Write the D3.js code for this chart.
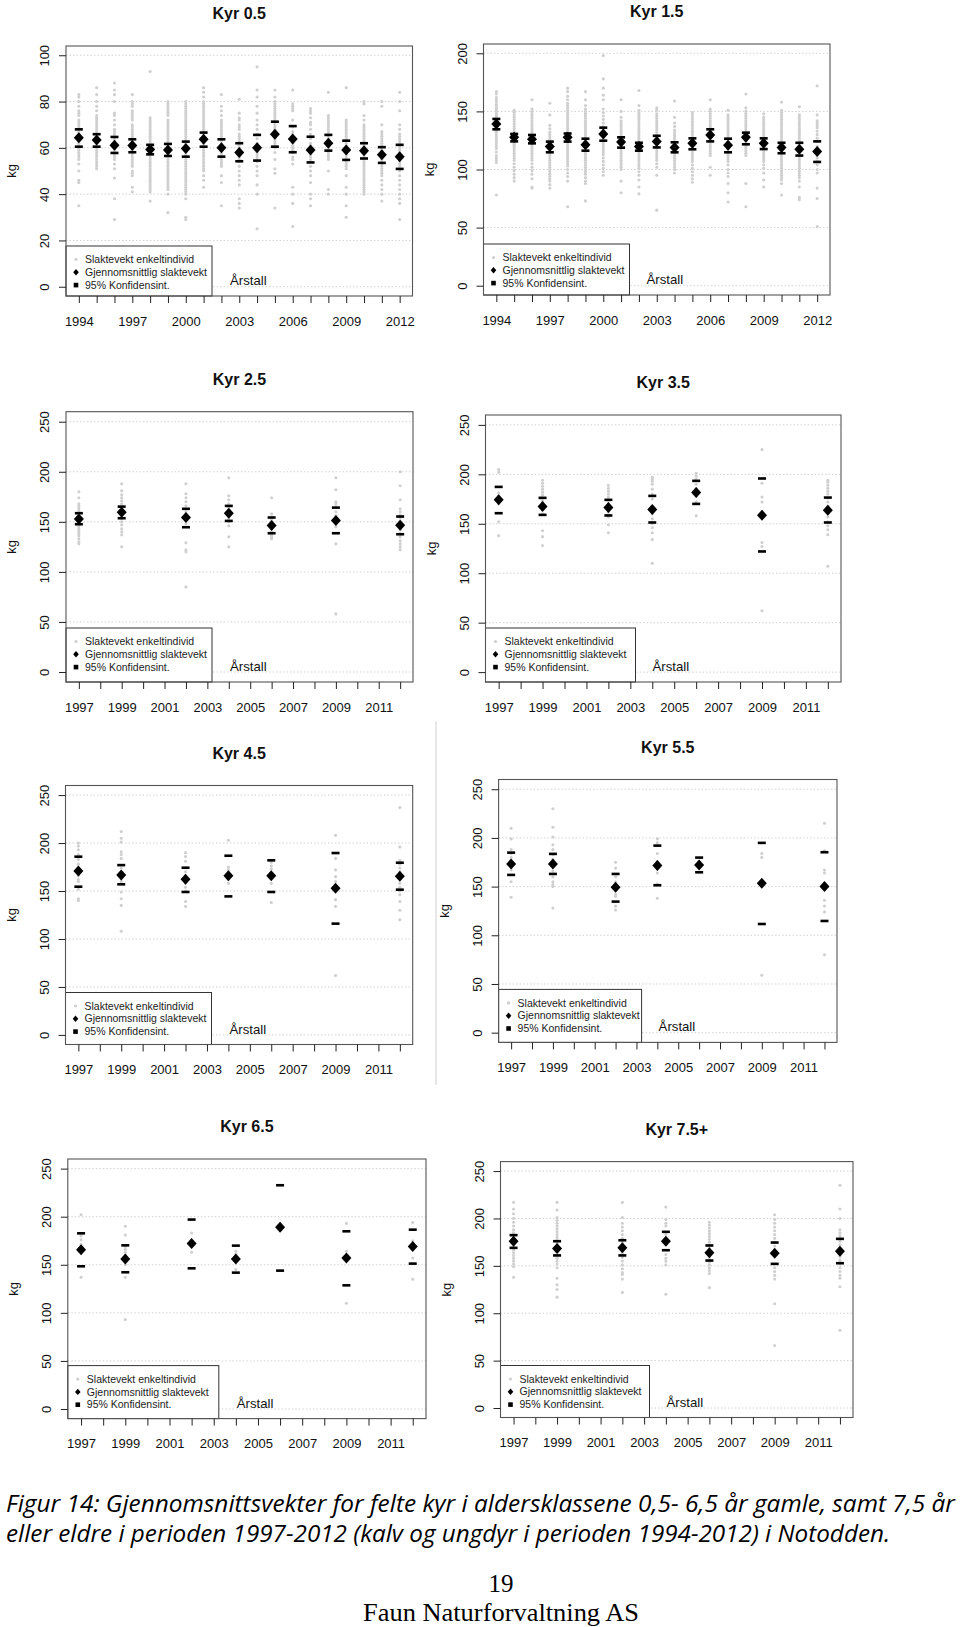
<!DOCTYPE html>
<html><head><meta charset="utf-8">
<script src="https://cdn.jsdelivr.net/npm/d3@7"></script>
<style>body{margin:0;background:#fff}</style>
</head><body><svg id="c" width="960" height="1627" style="font-family:'Liberation Sans',Arial,sans-serif"></svg>
<script>
// ---------------- DATA ----------------
const titles = ["Kyr 0.5","Kyr 1.5","Kyr 2.5","Kyr 3.5","Kyr 4.5","Kyr 5.5","Kyr 6.5","Kyr 7.5+"];
const legendLabels = ["Slaktevekt enkeltindivid","Gjennomsnittlig slaktevekt","95% Konfidensint."];
const xAxisTitle = "Årstall";
const yAxisTitle = "kg";

const yearsYoung = [1994,1995,1996,1997,1998,1999,2000,2001,2002,2003,2004,2005,2006,2007,2008,2009,2010,2011,2012];
const xLabelsYoung = [1994,1997,2000,2003,2006,2009,2012];
const yearsAdult = [1997,1999,2002,2004,2006,2009,2012];
const xTicksAdult = [1997,1998,1999,2000,2001,2002,2003,2004,2005,2006,2007,2008,2009,2010,2011,2012];
const xLabelsAdult = [1997,1999,2001,2003,2005,2007,2009,2011];
const yTicks05 = [0,20,40,60,80,100];
const yTicks15 = [0,50,100,150,200];
const yTicksAdult = [0,50,100,150,200,250];

const mean05 = [64.4,63.4,61.1,61.0,59.3,59.1,59.7,63.7,60.0,58.0,60.0,65.9,63.8,59.1,62.0,59.1,58.8,57.0,56.2];
const hi05 = [68.0,65.9,64.7,63.7,61.3,61.7,62.7,66.6,63.7,62.0,65.6,71.3,69.4,64.8,65.6,63.1,62.0,60.3,61.3];
const lo05 = [60.5,60.5,57.8,58.1,57.2,56.5,56.2,60.5,56.2,54.2,54.5,60.5,58.1,53.7,58.8,54.8,55.4,53.5,50.9];
const pts05 = [
 [83,82,80,78,76,75,74,72,71,70,69,68,67,66,65,64,63,62,61,60,59,58,57,56,55,53,50,46,45,35],
 [86,83,80,78,76,74,73,72,71,70,69,68,67,66,65,64,63,62,61,60,59,58,57,56,55,54,53,52,51],
 [88,85,83,80,75,74,72,70,68,67,66,65,64,63,62,61,60,59,58,57,56,55,53,51,47,38,29],
 [83,80,79,78,76,75,74,73,72,70,69,68,67,66,65,64,63,62,61,60,59,58,57,56,55,54,53,52,50,49,48,43,41],
 [93,73,72,71,70,69,68,67,66,65,64,63,62,61,60,59,58,57,56,55,54,53,52,51,50,49,48,47,46,45,44,43,42,41,37],
 [80,79,78,77,76,75,74,72,71,70,69,68,67,66,65,64,63,62,61,60,59,58,57,56,55,54,53,52,51,50,49,48,47,46,45,44,43,42,40,32],
 [80,79,78,77,76,75,74,73,72,71,70,69,68,67,66,65,64,63,62,61,60,59,58,57,56,55,54,53,52,51,50,49,48,47,46,45,44,43,42,41,40,38,30,29],
 [86,84,82,80,79,78,77,76,75,74,73,72,71,70,69,68,67,66,65,64,63,62,61,60,59,58,57,56,55,54,53,52,51,50,48,46,43],
 [83,78,76,74,72,71,70,69,68,67,66,65,64,63,62,61,60,59,58,57,56,55,54,53,52,48,45,35],
 [81,75,73,72,70,69,68,66,65,64,63,62,61,60,59,58,57,56,55,54,52,50,48,46,44,38,36,34],
 [95,85,82,78,75,72,70,68,66,64,62,60,58,57,56,55,54,52,50,48,44,40,25],
 [85,82,80,79,78,77,76,75,74,73,72,71,70,69,68,67,66,65,64,63,62,61,60,58,55,51,49,34],
 [85,79,78,77,76,72,69,67,66,65,64,63,62,61,60,59,58,56,55,53,43,40,36,26],
 [77,76,75,73,71,70,68,66,65,64,62,61,60,59,58,57,56,55,54,52,50,48,45,40,38,35],
 [84,74,73,72,71,70,69,68,67,66,65,64,63,62,61,60,59,58,57,56,55,50,42,40],
 [86,72,71,70,69,68,67,66,65,64,63,62,61,60,59,58,57,56,55,54,53,52,51,48,43,40,35,30],
 [80,79,74,72,70,69,68,67,66,65,64,63,62,61,60,59,58,57,56,55,54,53,52,51,50,49,48,47,46,45,44,43,42,41,40],
 [80,78,70,67,66,65,64,63,62,61,60,59,58,57,56,55,54,53,52,51,50,49,48,46,44,42,40,37],
 [84,80,76,70,68,66,65,64,63,62,61,60,59,58,57,56,55,54,53,52,50,48,46,44,42,40,38,36,29]
];

const mean15 = [139.2,127.7,126.0,119.7,127.7,121.4,130.6,123.7,119.7,124.2,119.0,122.5,129.7,120.8,127.7,122.5,119.0,117.4,115.4];
const hi15 = [143.5,130.6,129.7,124.0,131.0,126.5,136.0,127.7,123.0,129.0,123.4,126.8,134.6,126.5,131.7,126.8,123.0,123.0,124.2];
const lo15 = [134.6,124.2,122.5,114.8,124.0,116.2,124.8,118.8,116.2,119.0,114.8,117.4,124.2,114.8,121.7,117.6,114.0,112.0,106.5];
const pts15 = [
 [167,165,162,160,158,156,155,153,152,150,148,147,146,145,144,143,142,141,140,139,138,137,136,135,134,133,132,130,128,126,124,122,120,118,115,112,110,108,106,78],
 [151,149,147,145,143,141,139,137,135,133,131,130,129,128,127,126,125,124,123,122,121,120,118,116,114,112,110,108,105,102,99,96,93,90],
 [160,152,150,148,146,144,142,140,138,136,134,132,130,128,126,124,122,120,118,116,114,112,110,108,105,102,99,96,92,85,84],
 [157,147,138,135,132,130,128,126,124,122,120,118,116,114,112,110,108,106,104,102,100,98,96,94,92,90,87,84],
 [170,167,163,160,157,155,153,151,149,147,145,143,141,139,137,135,133,131,129,127,125,123,121,119,117,115,113,111,109,107,105,103,100,97,94,90,68],
 [167,160,155,152,150,148,146,144,142,140,138,136,134,132,130,128,126,124,122,120,118,116,114,112,110,108,106,104,102,100,98,96,93,90,88,73],
 [198,178,170,164,160,152,149,146,143,140,137,135,133,131,129,127,125,123,121,119,117,115,113,110,107,104,101,98,95],
 [160,150,145,142,140,138,136,134,132,130,128,126,124,122,120,118,116,114,112,110,108,106,104,102,100,90,80],
 [168,155,151,149,147,145,143,141,139,137,135,133,131,129,127,125,123,121,119,117,115,113,111,109,107,105,103,101,98,95,91,85,79],
 [153,151,148,146,144,142,140,138,136,134,132,130,128,126,124,122,120,118,116,114,112,110,108,105,102,95,65],
 [159,145,140,137,134,132,130,128,126,124,122,120,118,116,114,112,110,108,106,104,102,100,97],
 [149,147,145,143,141,139,137,135,133,131,129,127,125,123,121,119,117,115,113,111,109,107,104,101,98,95,92,89],
 [160,152,150,148,146,144,142,140,138,136,134,132,130,128,126,124,122,120,118,116,114,112,102,95],
 [151,147,145,143,141,139,137,135,133,131,129,127,125,123,121,119,117,115,113,111,109,107,104,100,97,94,88,80,72],
 [165,153,150,148,146,144,142,140,138,136,134,132,130,128,126,124,122,120,118,116,114,112,88,68],
 [148,145,143,141,139,137,135,133,131,129,127,125,123,121,119,117,115,113,111,109,107,104,101,97,91,85],
 [158,151,149,147,145,143,141,139,137,135,133,131,129,127,125,123,121,119,117,115,113,111,109,107,105,103,101,99,97,95,93,91,88,78],
 [154,147,145,143,141,139,137,135,133,131,129,127,125,123,121,119,117,115,113,111,109,107,105,103,101,99,97,95,93,90,85,76,74],
 [172,147,142,140,138,136,133,130,127,124,120,117,114,110,107,104,100,97,84,75,51]
];

const mean25 = [152.9,159.6,154.3,158.6,146.3,151.3,146.6];
const hi25 = [158.6,165.2,163.0,165.9,154.3,164.2,155.3];
const lo25 = [147.6,153.6,144.6,150.9,138.6,138.6,137.6];
const pts25 = [
 [180,174,168,166,164,162,160,158,156,154,152,150,148,146,144,142,140,138,136,133,130,128],
 [188,181,177,174,171,168,165,162,160,158,156,153,150,147,143,140,137,125],
 [188,178,174,170,166,163,160,157,154,151,148,129,122,120,85],
 [194,176,172,168,165,162,159,156,153,150,146,135,125],
 [174,158,155,152,149,146,143,140,137,135,133],
 [194,182,170,168,165,160,156,152,148,145,128,58],
 [200,186,172,163,160,157,154,151,148,145,142,138,135,131,128,125,122]
];

const mean35 = [174.2,167.5,166.4,164.4,181.6,158.7,163.7];
const hi35 = [187.3,176.2,174.2,178.2,193.4,195.8,176.5];
const lo35 = [160.7,159.0,158.4,151.3,170.1,122.0,151.3];
const pts35 = [
 [205,202,181,178,175,172,170,152,138],
 [194,191,188,185,182,179,176,173,170,165,160,143,137,128],
 [189,186,183,180,177,174,171,168,165,162,159,157,149,141],
 [197,195,193,190,185,180,175,160,155,150,146,141,134,110],
 [201,198,195,190,186,182,178,172,158],
 [225,191,177,172,162,157,131,127,62],
 [194,192,189,186,183,180,176,172,168,157,152,148,144,139,107]
];

const mean45 = [170.8,166.7,162.2,166.0,166.0,152.8,165.3];
const hi45 = [185.8,177.0,174.3,186.8,182.0,189.6,179.5];
const lo45 = [154.5,157.0,149.0,144.4,149.0,116.0,151.4];
const pts45 = [
 [200,197,193,188,183,178,174,170,166,162,160,152,142,140],
 [212,205,201,191,188,184,174,170,166,162,160,149,142,135,108],
 [190,186,181,174,170,166,162,158,154,150,139,134],
 [203,175,172,168,165,162,158],
 [180,176,173,158,138],
 [208,184,172,165,160,141,134,62],
 [237,196,182,178,174,170,158,154,150,146,139,130,120]
];

const mean55 = [173.3,173.3,149.3,171.6,172.3,153.4,150.0];
const hi55 = [184.9,183.6,163.0,192.1,179.8,194.9,185.3];
const lo55 = [162.0,163.0,134.6,151.4,164.7,111.6,114.7];
const pts55 = [
 [210,199,188,184,180,176,172,167,155,139],
 [230,211,201,193,188,183,178,172,166,160,155,152,150,128],
 [175,169,160,155,150,146,142,140,130,126],
 [199,195,184,176,172,168,164,153,138],
 [176,172,169],
 [184,180,59],
 [215,187,167,164,136,130,124,80]
];

const mean65 = [165.7,156.0,172.0,156.0,189.0,157.0,168.9];
const hi65 = [182.7,170.2,197.0,169.9,232.7,184.8,186.5];
const lo65 = [148.4,142.2,146.3,141.8,143.9,128.6,151.2];
const pts65 = [
 [202,180,176,171,137],
 [190,181,169,166,163,160,150,137,93],
 [183,175,163],
 [164,161,145],
 [189],
 [193,164,155,110],
 [194,175,157,135]
];

const mean75 = [176.0,168.3,169.0,176.0,163.7,163.4,165.5];
const hi75 = [182.4,176.0,177.0,185.9,171.5,174.6,178.5];
const lo75 = [169.0,161.0,161.0,166.5,155.6,152.1,152.8];
const pts75 = [
 [217,210,205,200,196,192,188,185,182,179,176,173,170,167,164,161,158,155,152,149,138],
 [217,209,201,198,195,192,189,186,183,180,177,174,171,168,165,162,158,155,152,148,137,130,125,117],
 [217,201,195,191,187,183,179,175,171,167,163,159,155,151,147,143,141,136,122],
 [212,199,195,192,183,179,176,162,158,155,151,120],
 [196,193,190,187,184,181,178,175,172,169,166,163,160,157,154,151,148,145,142,127],
 [204,199,195,191,187,183,179,175,171,148,144,140,136,110,66],
 [235,210,200,188,185,182,179,176,172,160,156,152,148,144,140,137,128,82]
];

const captionLines = [
 "Figur 14: Gjennomsnittsvekter for felte kyr i aldersklassene 0,5- 6,5 år gamle, samt 7,5 år",
 "eller eldre i perioden 1997-2012 (kalv og ungdyr i perioden 1994-2012) i Notodden."
];
const pageNumber = "19";
const footer = "Faun Naturforvaltning AS";

// ---------------- PANELS ----------------
const panels = [
 {years:yearsYoung, xTicks:yearsYoung, xLabels:xLabelsYoung, yTicks:yTicks05, yMax:100, mean:mean05, hi:hi05, lo:lo05, pts:pts05},
 {years:yearsYoung, xTicks:yearsYoung, xLabels:xLabelsYoung, yTicks:yTicks15, yMax:200, mean:mean15, hi:hi15, lo:lo15, pts:pts15},
 {years:yearsAdult, xTicks:xTicksAdult, xLabels:xLabelsAdult, yTicks:yTicksAdult, yMax:250, mean:mean25, hi:hi25, lo:lo25, pts:pts25},
 {years:yearsAdult, xTicks:xTicksAdult, xLabels:xLabelsAdult, yTicks:yTicksAdult, yMax:250, mean:mean35, hi:hi35, lo:lo35, pts:pts35},
 {years:yearsAdult, xTicks:xTicksAdult, xLabels:xLabelsAdult, yTicks:yTicksAdult, yMax:250, mean:mean45, hi:hi45, lo:lo45, pts:pts45},
 {years:yearsAdult, xTicks:xTicksAdult, xLabels:xLabelsAdult, yTicks:yTicksAdult, yMax:250, mean:mean55, hi:hi55, lo:lo55, pts:pts55},
 {years:yearsAdult, xTicks:xTicksAdult, xLabels:xLabelsAdult, yTicks:yTicksAdult, yMax:250, mean:mean65, hi:hi65, lo:lo65, pts:pts65},
 {years:yearsAdult, xTicks:xTicksAdult, xLabels:xLabelsAdult, yTicks:yTicksAdult, yMax:250, mean:mean75, hi:hi75, lo:lo75, pts:pts75}
];

// layout (box = left, top, right, bottom)
const layout = [
 {box:[66,46,412.5,296], legW:146, legH:50, ars:164},
 {box:[483.5,44,830,295], legW:146, legH:51, ars:163},
 {box:[66,411.7,413,682], legW:146, legH:54, ars:164},
 {box:[485.5,415,841,682], legW:150, legH:54, ars:167},
 {box:[65.5,785.5,412.7,1044.5], legW:146, legH:52, ars:164},
 {box:[498.6,779.5,837,1042.4], legW:143, legH:53, ars:160},
 {box:[67.8,1159,426,1418.6], legW:151, legH:53, ars:169},
 {box:[500.5,1161.6,853,1417.5], legW:149, legH:52, ars:166}
];

const SANS = "'Liberation Sans', Arial, sans-serif";
const svg = d3.select("#c");
svg.append("rect").attr("width",960).attr("height",1627).attr("fill","#fff");

// page separator (scan artefact)
svg.append("line").attr("x1",436).attr("x2",436).attr("y1",721).attr("y2",1085)
  .attr("stroke","#d8d8d8").attr("stroke-width",1.2);

function diamond(w,h){ return `M0,${-h}L${w},0L0,${h}L${-w},0Z`; }

panels.forEach((p,k)=>{
  const L = layout[k];
  const [x0,y0,x1,y1] = L.box;
  const g = svg.append("g");
  const first = p.xTicks[0], last = p.xTicks[p.xTicks.length-1];
  const xpad = (last-first)*0.04, ypad = p.yMax*0.04;
  const x = d3.scaleLinear().domain([first-xpad,last+xpad]).range([x0,x1]);
  const y = d3.scaleLinear().domain([-ypad,p.yMax+ypad]).range([y1,y0]);

  // grid
  g.append("g").selectAll("line").data(p.yTicks).join("line")
    .attr("x1",x0).attr("x2",x1).attr("y1",d=>y(d)).attr("y2",d=>y(d))
    .attr("stroke","#d2d2d2").attr("stroke-width",1).attr("stroke-dasharray","1.5,2");

  // individual points
  p.years.forEach((yr,i)=>{
    g.append("g").selectAll("circle").data(p.pts[i]).join("circle")
      .attr("cx",x(yr)).attr("cy",d=>y(d)).attr("r",1.55).attr("fill","#cfcfcf");
  });

  // CI bars
  const ci = p.years.flatMap((yr,i)=>[{yr,v:p.hi[i]},{yr,v:p.lo[i]}]);
  g.append("g").selectAll("rect").data(ci).join("rect")
    .attr("x",d=>x(d.yr)-4).attr("y",d=>y(d.v)-1.3).attr("width",8).attr("height",2.6).attr("fill","#000");

  // means
  g.append("g").selectAll("path").data(p.years.map((yr,i)=>({yr,v:p.mean[i]}))).join("path")
    .attr("d",diamond(5,5.5)).attr("transform",d=>`translate(${x(d.yr)},${y(d.v)})`).attr("fill","#000");

  // legend
  const lx = x0, ly = y1 - L.legH;
  const lg = g.append("g");
  lg.append("rect").attr("x",lx).attr("y",ly).attr("width",L.legW).attr("height",L.legH)
    .attr("fill","#fff").attr("stroke","#333").attr("stroke-width",1);
  const rowY = i => ly + 13.5 + i*12.8;
  lg.append("circle").attr("cx",lx+10).attr("cy",rowY(0)).attr("r",1.6).attr("fill","#cfcfcf");
  lg.append("path").attr("d",diamond(2.8,3.2)).attr("transform",`translate(${lx+10},${rowY(1)})`).attr("fill","#000");
  lg.append("rect").attr("x",lx+10-2.3).attr("y",rowY(2)-2.3).attr("width",4.6).attr("height",4.6).attr("fill","#000");
  lg.selectAll("text").data(legendLabels).join("text")
    .attr("x",lx+19).attr("y",(d,i)=>rowY(i)).attr("dy","0.35em")
    .style("font-family",SANS).attr("font-size",10.5).attr("fill","#222").text(d=>d);

  // Årstall
  g.append("text").attr("x",x0+L.ars).attr("y",y1-11).style("font-family",SANS)
    .attr("font-size",13.2).attr("fill","#111").text(xAxisTitle);

  // box
  g.append("rect").attr("x",x0).attr("y",y0).attr("width",x1-x0).attr("height",y1-y0)
    .attr("fill","none").attr("stroke","#555").attr("stroke-width",1.1);

  // x axis
  const xa = g.append("g").attr("transform",`translate(0,${y1})`)
    .call(d3.axisBottom(x).tickValues(p.xTicks).tickSize(7).tickPadding(13.5)
      .tickFormat(d=>p.xLabels.includes(d)?String(d):""));
  xa.select(".domain").remove();
  xa.selectAll("line").attr("stroke","#222");
  xa.selectAll("text").attr("font-size",13).attr("fill","#111").style("font-family",SANS);

  // y axis
  const ya = g.append("g").attr("transform",`translate(${x0},0)`)
    .call(d3.axisLeft(y).tickValues(p.yTicks).tickSize(7).tickFormat(d=>String(d)));
  ya.select(".domain").remove();
  ya.selectAll("line").attr("stroke","#222");
  ya.selectAll("text").attr("x",null).attr("dy",null).attr("text-anchor","middle")
    .attr("transform","translate(-17,0) rotate(-90)")
    .attr("font-size",13).attr("fill","#111").style("font-family",SANS);

  // kg
  g.append("text").attr("transform",`translate(${x0-50},${(y0+y1)/2}) rotate(-90)`)
    .attr("text-anchor","middle").style("font-family",SANS).attr("font-size",13).attr("fill","#111").text(yAxisTitle);

  // title
  g.append("text").attr("x",(x0+x1)/2).attr("y",y0-27).attr("text-anchor","middle").style("font-family",SANS)
    .attr("font-size",16).attr("font-weight","bold").attr("fill","#111").text(titles[k]);
});

// caption
const CAP = "'Liberation Sans Narrow', 'Open Sans', 'Liberation Sans', sans-serif";
const SERIF = "'Liberation Serif', 'Times New Roman', serif";
svg.append("text").attr("x",6).attr("y",1512).attr("font-size",23).attr("font-style","italic")
  .style("font-family",CAP)
  .attr("textLength",949).attr("lengthAdjust","spacingAndGlyphs").attr("fill","#000").text(captionLines[0]);
svg.append("text").attr("x",6).attr("y",1542).attr("font-size",23).attr("font-style","italic")
  .style("font-family",CAP)
  .attr("textLength",884).attr("lengthAdjust","spacingAndGlyphs").attr("fill","#000").text(captionLines[1]);
svg.append("text").attr("x",501).attr("y",1592).attr("text-anchor","middle").attr("font-size",25)
  .style("font-family",SERIF).attr("fill","#000").text(pageNumber);
svg.append("text").attr("x",363).attr("y",1621).attr("font-size",25)
  .style("font-family",SERIF)
  .attr("textLength",276).attr("lengthAdjust","spacingAndGlyphs").attr("fill","#000").text(footer);
</script></body></html>
